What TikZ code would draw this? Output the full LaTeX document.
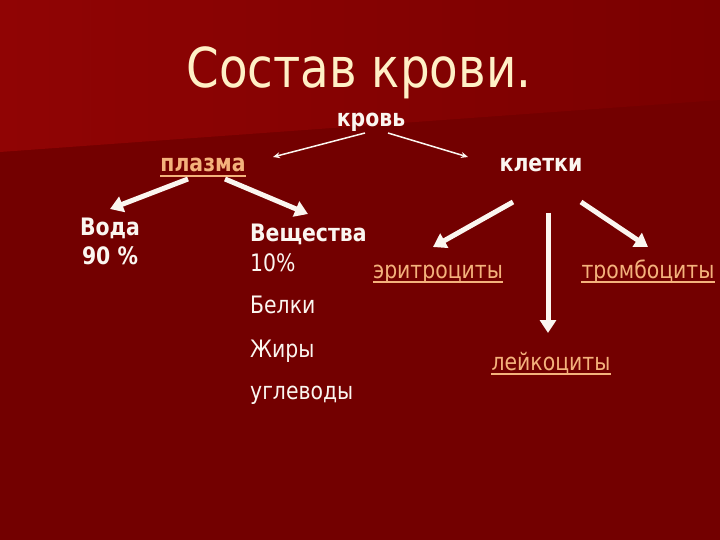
\documentclass[tikz,border=0pt]{standalone}
\usepackage{fontspec}
\setmainfont[FakeStretch=0.85]{DejaVu Sans}
\usetikzlibrary{arrows.meta}

\definecolor{slidebg}{HTML}{730000}
\definecolor{slidetop}{HTML}{900404}
\definecolor{slidemid}{HTML}{7A0000}
\definecolor{cream}{HTML}{FFF0C6}
\definecolor{peach}{HTML}{F4B27C}
\definecolor{snow}{HTML}{FBF6F0}

\tikzset{
  txt/.style={inner sep=0pt, text=snow, font=\fontsize{24}{28}\selectfont},
  bold/.style={txt, font=\fontsize{24}{28}\selectfont\bfseries},
  linked/.style={txt, text=peach},
  thinarrow/.style={draw=snow, line width=1.5, -{Stealth[length=7,width=6]}},
  fatarrow/.style={draw=snow, line width=5, -{Triangle[length=13,width=16]}},
}

\begin{document}
\begin{tikzpicture}[x=1pt,y=1pt,yscale=-1]
%background
\fill[slidebg] (0,0) rectangle (720,540);
\shade[left color=slidetop, right color=slidemid] (0,0) -- (720,0) -- (720,100) -- (0,152) -- cycle;
\useasboundingbox (0,0) rectangle (720,540);

%title
\node[txt, text=cream, font=\fontsize{55}{60}\selectfont, anchor=base] (title) at (359,88) {Состав крови.};

%first level
\node[bold, anchor=base] (krov) at (371,127) {кровь};
\node[linked, font=\fontsize{24}{28}\selectfont\bfseries, anchor=base] (plazma) at (203,172) {плазма};
\node[bold, anchor=base] (kletki) at (541,172) {клетки};

%plasma
\node[bold, anchor=base] (voda) at (110,236) {Вода};
\node[bold, anchor=base] (vodapct) at (110,264) {90 \%};
\node[bold, anchor=base west] (vesh) at (250,241) {Вещества};
\node[txt, anchor=base west] (veshpct) at (250,271) {10\%};
\node[txt, anchor=base west] (belki) at (250,313) {Белки};
\node[txt, anchor=base west] (zhiry) at (250,357) {Жиры};
\node[txt, anchor=base west] (uglevody) at (250,399) {углеводы};

%cells
\node[linked, anchor=base] (eritro) at (438,278) {эритроциты};
\node[linked, anchor=base] (trombo) at (648,278) {тромбоциты};
\node[linked, anchor=base] (leiko) at (551,370) {лейкоциты};

\foreach \n in {plazma,eritro,trombo,leiko}
  \draw[peach, line width=1.3] ([yshift=4]\n.base west) -- ([yshift=4]\n.base east);

%arrows
\draw[thinarrow] ([shift={(-6,6)}]krov.base) -- ([shift={(70,-15)}]plazma.base);
\draw[thinarrow] ([shift={(17,6)}]krov.base) -- ([shift={(-73,-15)}]kletki.base);
\draw[fatarrow] ([shift={(-15,7)}]plazma.base) -- ([shift={(0,-27)}]voda.base);
\draw[fatarrow] ([shift={(22,7)}]plazma.base) -- ([shift={(58,-27)}]vesh.base west);
\draw[fatarrow] ([shift={(-28,30)}]kletki.base) -- ([shift={(-5,-31)}]eritro.base);
\draw[fatarrow] ([shift={(7,41)}]kletki.base) -- ([shift={(-3,-37)}]leiko.base);
\draw[fatarrow] ([shift={(40,30)}]kletki.base) -- ([shift={(0,-31)}]trombo.base);
\end{tikzpicture}
\end{document}
